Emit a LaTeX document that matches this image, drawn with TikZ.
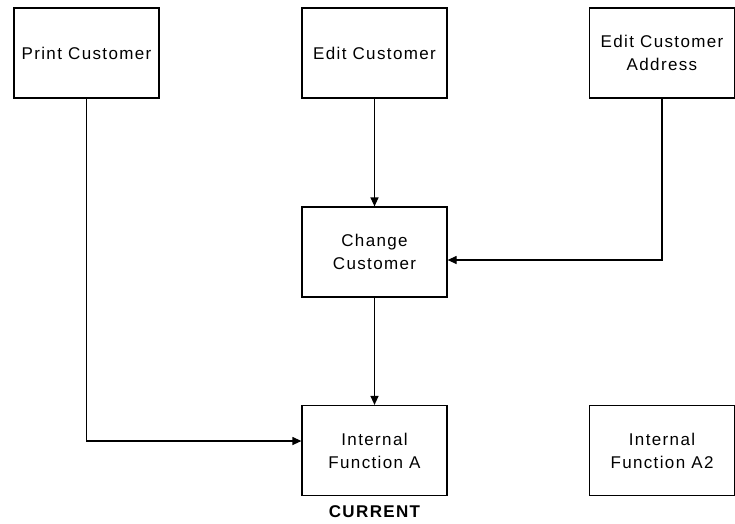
\documentclass[tikz,border=0pt]{standalone}
\usepackage{fontspec}
\setmainfont{Liberation Sans}[LetterSpace=8]
\usetikzlibrary{positioning}
\usetikzlibrary{arrows.meta}

\tikzset{
  fbox/.style={draw, line width=1.2pt, minimum width=145pt, minimum height=90pt,
    align=center, inner sep=0pt, font=\fontsize{17}{23}\selectfont},
  flow/.style={line width=1.2pt, -{Triangle[length=9pt,width=8pt]}}
}

\begin{document}
\begin{tikzpicture}[x=1pt,y=1pt]
    \useasboundingbox (0,0) rectangle (735,-523);

    \node[fbox] (print) at (86.5,-53) {Print Customer};
    \node[fbox] (edit) at (374.5,-53) {Edit Customer};
    \node[fbox] (addr) at (662,-53) {Edit Customer\\Address};

    \node[fbox] (change) at (374.5,-252) {Change\\Customer};

    \node[fbox] (funcA) at (374.5,-450.5) {Internal\\Function A};
    \node[fbox] (funcAtwo) at (662,-450.5) {Internal\\Function A2};
    \node[font=\fontsize{17}{20}\bfseries] (current) at (374.5,-512) {CURRENT};

    \draw[flow] (edit) -- (change);
    \draw[flow] (addr) |- ([yshift=-8pt]change.east);
    \draw[flow] (change) -- (funcA);
    \draw[flow] (print) |- ([yshift=9.5pt]funcA.west);

\end{tikzpicture}
\end{document}
